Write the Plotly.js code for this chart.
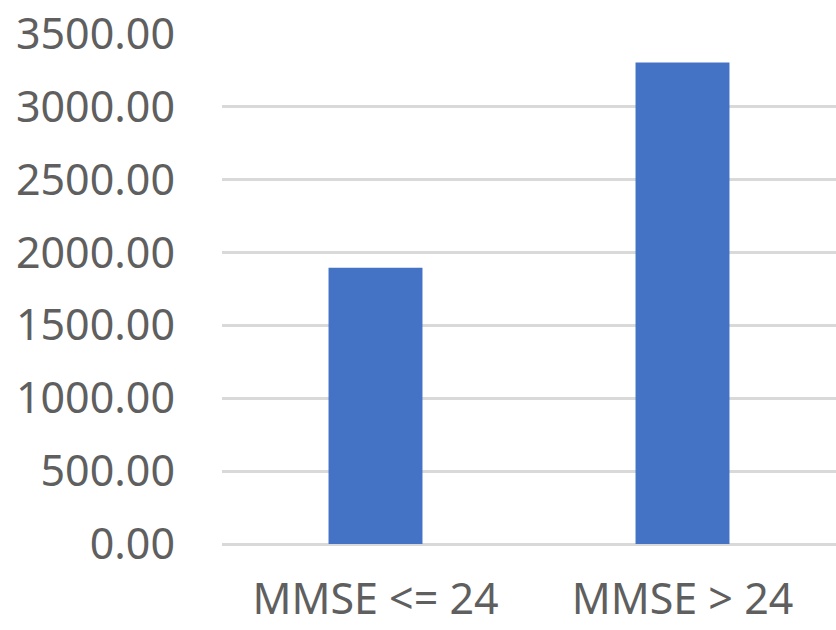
<!DOCTYPE html>
<html>
<head>
<meta charset="utf-8">
<script src="https://cdn.plot.ly/plotly-3.0.1.min.js"></script>
<style>html,body{margin:0;padding:0;background:#fff;}#chart{width:836px;height:630px;}</style>
</head>
<body>
<div id="chart"></div>
<script>
const categories = ["MMSE <= 24", "MMSE > 24"];
const values = [1895, 3305];
const yTickValues = [0, 500, 1000, 1500, 2000, 2500, 3000, 3500];

const trace = {
  type: "bar",
  x: categories,
  y: values,
  marker: {color: "#4472C4"},
  hoverinfo: "none"
};

const layout = {
  width: 836,
  height: 630,
  margin: {l: 222, r: 0, t: 34, b: 86},
  paper_bgcolor: "#ffffff",
  plot_bgcolor: "#ffffff",
  showlegend: false,
  bargap: 0.694,
  font: {family: "Noto Sans, Open Sans, sans-serif", size: 43, color: "#5f5f5f"},
  xaxis: {
    showgrid: false,
    showline: false,
    zeroline: false,
    ticks: "",
    ticklabelstandoff: 26,
    tickfont: {size: 43, color: "#5f5f5f"}
  },
  yaxis: {
    range: [0, 3500],
    tickvals: yTickValues,
    tickformat: ".2f",
    showgrid: true,
    gridcolor: "#d9d9d9",
    gridwidth: 3,
    zeroline: true,
    zerolinecolor: "#d9d9d9",
    zerolinewidth: 3,
    showline: false,
    ticks: "",
    ticklabelstandoff: 46,
    tickfont: {size: 43, color: "#5f5f5f"}
  }
};

Plotly.newPlot("chart", [trace], layout, {staticPlot: true, displayModeBar: false});
</script>
</body>
</html>
